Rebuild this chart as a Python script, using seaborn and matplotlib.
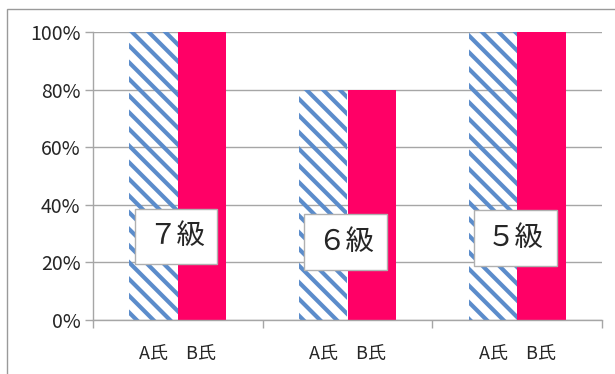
import matplotlib
matplotlib.use('Agg')
import pandas as pd
import numpy as np
import matplotlib.pyplot as plt
import seaborn as sns
from matplotlib.patches import Rectangle
from matplotlib.ticker import PercentFormatter

# ============================================================
# データ
# ============================================================
GRADES = ['７級', '６級', '５級']
PERSONS = ['A氏', 'B氏']
A_VALUES = [1.0, 0.8, 1.0]
B_VALUES = [1.0, 0.8, 1.0]
Y_TICKS = [0.0, 0.2, 0.4, 0.6, 0.8, 1.0]
LABEL_Y = [0.29, 0.27, 0.285]

BLUE = '#5b8ccb'
PINK = '#ff0066'
GRID = '#a6a6a6'

sns.set_theme(style='white')
plt.rcParams['font.family'] = ['Noto Sans CJK JP', 'DejaVu Sans']
plt.rcParams['hatch.linewidth'] = 3.0

df = pd.DataFrame({
    'grade': GRADES * 2,
    'person': [PERSONS[0]] * 3 + [PERSONS[1]] * 3,
    'value': A_VALUES + B_VALUES,
})

fig = plt.figure(figsize=(6.15, 3.74), dpi=100)
ax = fig.add_axes([93 / 615, 1 - 320 / 374, (602 - 93) / 615, (320 - 32) / 374])

sns.barplot(data=df, x='grade', y='value', hue='person', order=GRADES,
            hue_order=PERSONS, palette=[BLUE, PINK], width=0.57,
            saturation=1, linewidth=0, legend=False, ax=ax, zorder=2)

# A氏 は斜線ハッチ（背景透過）
for bar in ax.containers[0]:
    bar.set_facecolor('none')
    bar.set_edgecolor(BLUE)
    bar.set_hatch('\\\\')
    bar.set_linewidth(0)

ax.set_ylim(0, 1.0)
ax.set_xlim(-0.5, len(GRADES) - 0.5)
ax.set_yticks(Y_TICKS)
ax.yaxis.set_major_formatter(PercentFormatter(1.0, decimals=0))
ax.grid(axis='y', color=GRID, linewidth=1, zorder=0)
ax.set_axisbelow(True)

ax.set_xticks(range(len(GRADES)))
ax.set_xticklabels(['A氏　B氏'] * len(GRADES), fontsize=13)
ax.set_xticks(np.arange(-0.5, len(GRADES)), minor=True)
ax.tick_params(axis='x', which='major', length=0, pad=18)
ax.tick_params(axis='x', which='minor', length=6, color=GRID, width=1,
               direction='out', bottom=True)
ax.tick_params(axis='y', length=6, color=GRID, width=1, direction='out',
               left=True, labelsize=14, pad=3)
ax.set_xlabel('')
ax.set_ylabel('')

for s in ['top', 'right']:
    ax.spines[s].set_visible(False)
for s in ['left', 'bottom']:
    ax.spines[s].set_color(GRID)
    ax.spines[s].set_linewidth(1)

# 級ラベル
for i, (g, y) in enumerate(zip(GRADES, LABEL_Y)):
    ax.text(i - 0.01, y, g, fontsize=20.5, ha='center', va='center', zorder=5,
            bbox=dict(boxstyle='square,pad=0.45', facecolor='white',
                      edgecolor='#b0b0b0', linewidth=1))

# 外枠
fig.patches.append(Rectangle((7 / 615, -0.1), 1.2, 1 - 9 / 374 + 0.1,
                             transform=fig.transFigure, fill=False,
                             edgecolor='#9a9a9a', linewidth=1))

fig.savefig('out.png', dpi=100)
